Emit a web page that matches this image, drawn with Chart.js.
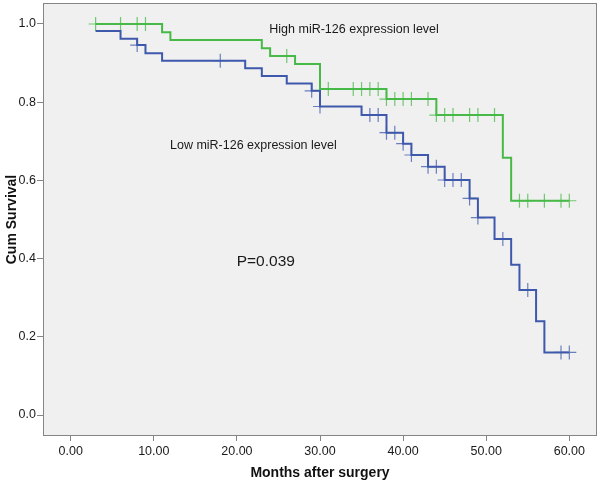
<!DOCTYPE html>
<html>
<head>
<meta charset="utf-8">
<title>Cum Survival by miR-126 expression</title>
<script src="https://cdn.jsdelivr.net/npm/chart.js@4.4.1/dist/chart.umd.min.js"></script>
<style>
  html, body { margin: 0; padding: 0; background: #fff; }
  #km { display: block; }
</style>
</head>
<body>
<canvas id="km" width="600" height="485"></canvas>
<script>
// Kaplan-Meier steps: month of each drop and survival after it
const highTimes  = [3, 11, 12, 23, 24, 27, 30, 38, 44, 52, 53];
const highSurv   = [1.0, 0.979, 0.959, 0.938, 0.918, 0.898, 0.834, 0.808, 0.767, 0.658, 0.548];
const highCensor = [3, 6, 8, 9, 26, 31, 34, 35, 36, 37, 38, 39, 40, 41, 43, 44, 45, 46, 48, 49, 51, 54, 55, 57, 59, 60];

const lowTimes  = [3, 6, 8, 9, 11, 21, 23, 26, 29, 30, 35, 38, 40, 41, 43, 45, 48, 49, 51, 53, 54, 56, 57];
const lowSurv   = [0.982, 0.962, 0.946, 0.925, 0.906, 0.887, 0.867, 0.848, 0.829, 0.789, 0.767, 0.722,
                   0.694, 0.665, 0.635, 0.601, 0.554, 0.505, 0.450, 0.384, 0.320, 0.240, 0.160];
const lowCensor = [8, 18, 29, 30, 36, 37, 38, 39, 40, 41, 43, 44, 45, 46, 47, 48, 49, 52, 55, 59, 60];

const xTicks = [0, 10, 20, 30, 40, 50, 60];
const yTicks = [0, 0.2, 0.4, 0.6, 0.8, 1.0];

const HIGH_LINE = '#46b946';
const HIGH_TICK = 'rgba(70,185,70,0.75)';
const LOW_LINE  = '#3e58ac';
const LOW_TICK  = 'rgba(62,88,172,0.75)';
const FONT = '"Liberation Sans", Arial, sans-serif';

// survival value of the step function at month t
function survAt(times, surv, t) {
  let s = surv[0];
  times.forEach((tt, i) => { if (tt <= t) s = surv[i]; });
  return s;
}

function stepLine(times, surv, censor) {
  const pts = times.map((t, i) => ({ x: t, y: surv[i] }));
  pts.push({ x: Math.max(...censor), y: surv[surv.length - 1] });
  return pts;
}

function censorPoints(times, surv, censor) {
  return censor.map(t => ({ x: t, y: survAt(times, surv, t) }));
}

// grey plot box like SPSS
const plotFrame = {
  id: 'plotFrame',
  beforeDraw(chart) {
    const { ctx, chartArea: a } = chart;
    ctx.save();
    ctx.fillStyle = '#fff';
    ctx.fillRect(0, 0, chart.width, chart.height);
    ctx.fillStyle = '#f0f0f0';
    ctx.fillRect(a.left, a.top, a.width, a.height);
    ctx.strokeStyle = '#858585';
    ctx.lineWidth = 1;
    ctx.strokeRect(Math.round(a.left) + 0.5, Math.round(a.top) + 0.5,
                   Math.round(a.width) - 1, Math.round(a.height) - 1);
    ctx.restore();
  }
};

// text labels placed in data coordinates
const textNotes = {
  id: 'textNotes',
  afterDraw(chart) {
    const { ctx, scales: { x, y } } = chart;
    const notes = [
      { text: 'High miR-126 expression level', m: 23.9, v: 0.978, size: 12.5 },
      { text: 'Low miR-126 expression level',  m: 11.95, v: 0.68, size: 12.5 },
      { text: 'P=0.039',                       m: 19.98, v: 0.381, size: 15.5 },
    ];
    ctx.save();
    ctx.fillStyle = '#1a1a1a';
    ctx.textAlign = 'left';
    ctx.textBaseline = 'alphabetic';
    notes.forEach(n => {
      ctx.font = `${n.size}px ${FONT}`;
      ctx.fillText(n.text, x.getPixelForValue(n.m), y.getPixelForValue(n.v));
    });
    ctx.restore();
  }
};

const survChart = new Chart(document.getElementById('km'), {
  type: 'line',
  data: {
    datasets: [
      {
        label: 'High miR-126',
        data: stepLine(highTimes, highSurv, highCensor),
        borderColor: HIGH_LINE,
        borderWidth: 2,
        stepped: true,
        pointRadius: 0,
        fill: false,
      },
      {
        label: 'Low miR-126',
        data: stepLine(lowTimes, lowSurv, lowCensor),
        borderColor: LOW_LINE,
        borderWidth: 2,
        stepped: true,
        pointRadius: 0,
        fill: false,
      },
      {
        type: 'scatter',
        label: 'High censored',
        data: censorPoints(highTimes, highSurv, highCensor),
        pointStyle: 'cross',
        pointRadius: 7,
        pointBorderWidth: 1.2,
        borderColor: HIGH_TICK,
        backgroundColor: HIGH_TICK,
        showLine: false,
      },
      {
        type: 'scatter',
        label: 'Low censored',
        data: censorPoints(lowTimes, lowSurv, lowCensor),
        pointStyle: 'cross',
        pointRadius: 7,
        pointBorderWidth: 1.2,
        borderColor: LOW_TICK,
        backgroundColor: LOW_TICK,
        showLine: false,
      },
    ],
  },
  options: {
    responsive: false,
    animation: false,
    events: [],
    layout: { autoPadding: false, padding: { top: 3, right: 3, left: 0, bottom: 0 } },
    plugins: { legend: { display: false }, tooltip: { enabled: false } },
    scales: {
      x: {
        type: 'linear',
        min: -3.33, max: 63.33,
        afterBuildTicks: s => { s.ticks = xTicks.map(v => ({ value: v })); },
        afterFit: s => { s.height = 49; s.paddingLeft = 0; s.paddingRight = 0; },
        ticks: {
          color: '#1a1a1a', font: { family: FONT, size: 12.5 }, padding: 3, maxRotation: 0,
          callback: v => v.toFixed(2),
        },
        grid: { drawOnChartArea: false, drawTicks: true, tickLength: 5, color: '#858585' },
        border: { display: false },
        title: {
          display: true,
          text: 'Months after surgery',
          color: '#111',
          font: { family: FONT, size: 14, weight: 'bold' },
          padding: { top: 0, bottom: 3 },
        },
      },
      y: {
        type: 'linear',
        min: -0.0537, max: 1.0537,
        afterBuildTicks: s => { s.ticks = yTicks.map(v => ({ value: v })); },
        afterFit: s => { s.width = 43; s.paddingTop = 0; s.paddingBottom = 0; },
        ticks: {
          color: '#1a1a1a', font: { family: FONT, size: 12.5 }, padding: 1,
          callback: v => v.toFixed(1),
        },
        grid: { drawOnChartArea: false, drawTicks: true, tickLength: 6, color: '#858585' },
        border: { display: false },
        title: {
          display: true,
          text: 'Cum Survival',
          color: '#111',
          font: { family: FONT, size: 14, weight: 'bold' },
          padding: { top: 4, bottom: 0 },
        },
      },
    },
  },
  plugins: [plotFrame, textNotes],
});
</script>
</body>
</html>
